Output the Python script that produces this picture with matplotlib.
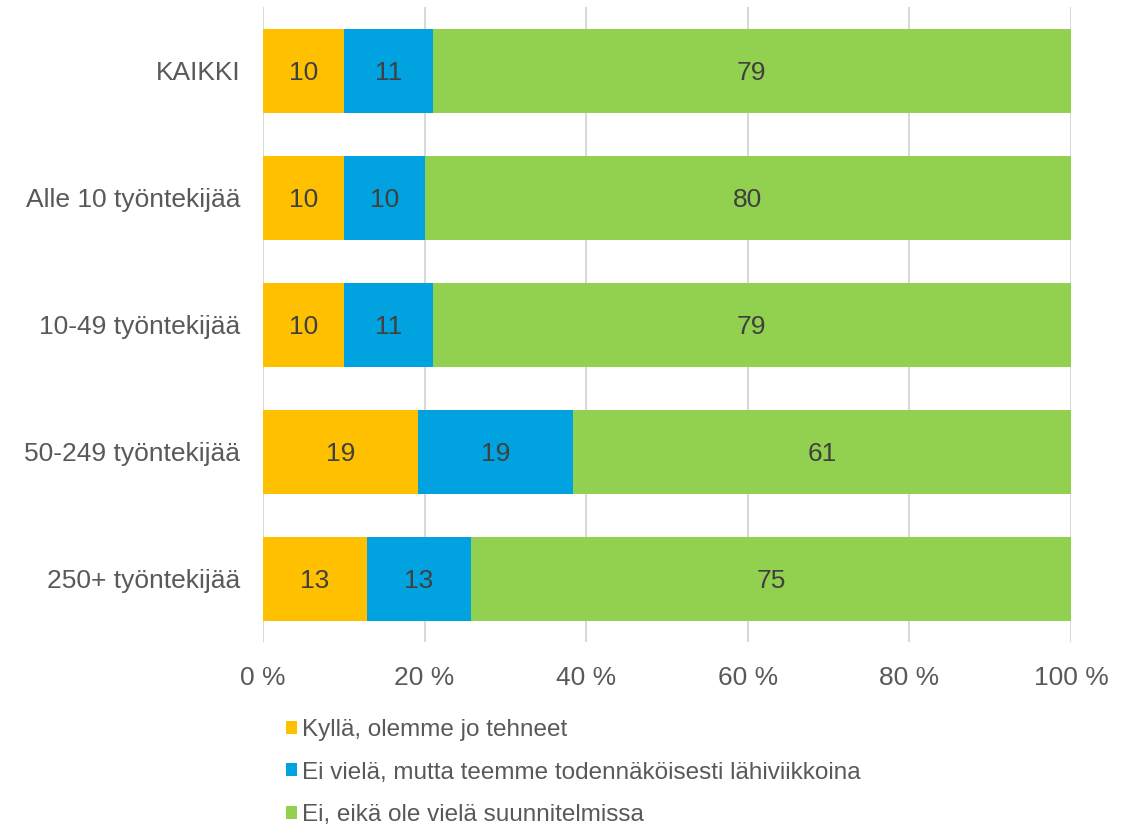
import matplotlib
matplotlib.use("Agg")
import matplotlib.pyplot as plt
import numpy as np

plt.rcParams['font.family'] = ['Liberation Sans', 'DejaVu Sans']

categories = ["KAIKKI", "Alle 10 työntekijää", "10-49 työntekijää", "50-249 työntekijää", "250+ työntekijää"]
series_names = ["Kyllä, olemme jo tehneet",
                "Ei vielä, mutta teemme todennäköisesti lähiviikkoina",
                "Ei, eikä ole vielä suunnitelmissa"]
kylla = [10, 10, 10, 19, 13]
ei_viela = [11, 10, 11, 19, 13]
ei_eika = [79, 80, 79, 61, 75]
colors = ["#FFC000", "#00A2E0", "#92D050"]
xticks = [0, 20, 40, 60, 80, 100]
xticklabels = ["0 %", "20 %", "40 %", "60 %", "80 %", "100 %"]

data = np.array([kylla, ei_viela, ei_eika], dtype=float)
totals = data.sum(axis=0)
pct = data / totals * 100

fig = plt.figure(figsize=(11.35, 8.24), dpi=100)
ax = fig.add_axes([0.2317, 0.2203, 0.9436 - 0.2317, 0.9909 - 0.2203])

y = np.arange(len(categories))
left = np.zeros(len(categories))
for i in range(3):
    bars = ax.barh(y, pct[i], left=left, height=0.66, color=colors[i],
                   label=series_names[i], zorder=3)
    for j, b in enumerate(bars):
        ax.text(left[j] + pct[i][j] / 2, y[j], f"{int(data[i][j])}",
                ha='center', va='center_baseline', fontsize=19, color='#404040', zorder=4)
    left += pct[i]

ax.set_xlim(0, 100)
ax.set_ylim(len(categories) - 0.5, -0.5)
ax.set_yticks(y)
ax.set_yticklabels(categories, fontsize=19, color='#595959')
ax.set_xticks(xticks)
ax.set_xticklabels(xticklabels, fontsize=19, color='#595959')
ax.tick_params(axis='both', length=0)
ax.tick_params(axis='x', pad=17)
ax.tick_params(axis='y', pad=16.5)
ax.xaxis.grid(True, color='#D9D9D9', linewidth=1.5, zorder=0)
for s in ax.spines.values():
    s.set_visible(False)

handles, labels = ax.get_legend_handles_labels()
fig.legend(handles, labels, loc='upper left', bbox_to_anchor=(0.252, 0.127),
           frameon=False, fontsize=17.5, handlelength=0.45, handleheight=0.45,
           handletextpad=0.2, labelspacing=0.83, labelcolor='#595959',
           borderpad=0, borderaxespad=0)

fig.savefig("out.png", dpi=100)
